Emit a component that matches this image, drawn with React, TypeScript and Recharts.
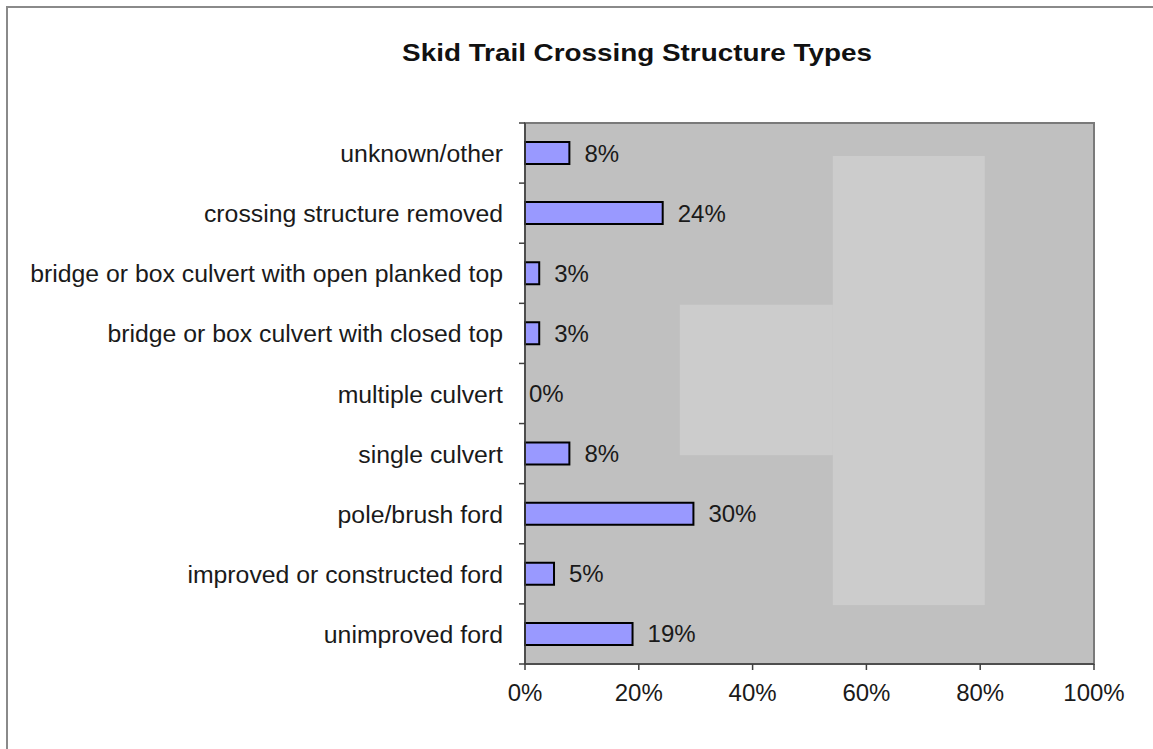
import {
    BarChart,
    Bar,
    XAxis,
    YAxis,
    ReferenceArea,
    ReferenceDot,
    LabelList,
} from 'recharts';

const categories = [
    'unknown/other',
    'crossing structure removed',
    'bridge or box culvert with open planked top',
    'bridge or box culvert with closed top',
    'multiple culvert',
    'single culvert',
    'pole/brush ford',
    'improved or constructed ford',
    'unimproved ford',
];

const shares = [7.8, 24.2, 2.5, 2.5, 0, 7.8, 29.6, 5.1, 18.9];

const xTicks = [0, 20, 40, 60, 80, 100];

const title = 'Skid Trail Crossing Structure Types';

const data = categories.map((name, i) => ({ name, share: shares[i] }));

const W = 1153;
const H = 749;
const TOP = 123;
const RIGHT = 59;
const AXIS_W = 525;
const XAXIS_H = 40;
const BOTTOM = 45;
const PLOT_H = H - TOP - BOTTOM - XAXIS_H;
const HALF_BAND = PLOT_H / categories.length / 2;
const FONT = '"Liberation Sans", Arial, sans-serif';
const pct = (v: any) => `${Math.round(Number(v))}%`;

// y-axis ticks sit on the band edges, like the original spreadsheet chart
function CategoryTick(props: any) {
    const { y, payload, index } = props;
    const ax = AXIS_W;
    return (
        <g>
            <line x1={ax - 6} x2={ax} y1={y - HALF_BAND} y2={y - HALF_BAND} stroke="#404040" strokeWidth={1.5} />
            {index === categories.length - 1 && (
                <line x1={ax - 6} x2={ax} y1={y + HALF_BAND} y2={y + HALF_BAND} stroke="#404040" strokeWidth={1.5} />
            )}
            <text
                x={ax - 22}
                y={y}
                dy={9}
                textAnchor="end"
                fontSize={24.8}
                fontFamily={FONT}
                fill="#1a1a1a"
            >
                {payload.value}
            </text>
        </g>
    );
}

// lighter patch inside the plot background (fractions of the plot box)
function Patch(f: { top: number; bottom: number }) {
    return (props: any) => (
        <rect
            x={props.x}
            width={props.width}
            y={props.y + props.height * f.top}
            height={props.height * (f.bottom - f.top)}
            fill="#cccccc"
        />
    );
}

export default function App() {
    return (
        <div style={{ position: 'relative', width: W, height: H, background: '#fff', overflow: 'hidden' }}>
            <style>{'body{margin:0}'}</style>
            <div
                style={{
                    position: 'absolute',
                    left: 6,
                    top: 6,
                    right: 0,
                    bottom: 0,
                    borderTop: '2px solid #8a8a8a',
                    borderLeft: '2px solid #8a8a8a',
                }}
            />
            <div
                style={{
                    position: 'absolute',
                    top: 41,
                    left: 337,
                    width: 600,
                    textAlign: 'center',
                    fontFamily: FONT,
                    fontWeight: 'bold',
                    fontSize: 24,
                    lineHeight: '24px',
                    color: '#111',
                    transform: 'scaleX(1.16)',
                    whiteSpace: 'nowrap',
                }}
            >
                {title}
            </div>
            <BarChart
                width={W}
                height={H}
                data={data}
                layout="vertical"
                margin={{ top: TOP, right: RIGHT, left: 0, bottom: BOTTOM }}
                barCategoryGap={0}
                style={{ position: 'absolute', left: 0, top: 0 }}
            >
                <XAxis
                    type="number"
                    domain={[0, 100]}
                    ticks={xTicks}
                    tickFormatter={(v: number) => `${v}%`}
                    height={XAXIS_H}
                    tickSize={6}
                    tickMargin={14}
                    stroke="#404040"
                    strokeWidth={1.5}
                    tick={{ fontSize: 24, fill: '#1a1a1a', fontFamily: FONT }}
                />
                <YAxis
                    type="category"
                    dataKey="name"
                    width={AXIS_W}
                    tickLine={false}
                    stroke="#404040"
                    strokeWidth={1.5}
                    tick={<CategoryTick />}
                    interval={0}
                />
                <ReferenceArea x1={0} x2={100} fill="#c0c0c0" fillOpacity={1} stroke="#7a7a7a" strokeWidth={2} />
                <ReferenceArea x1={54.1} x2={80.8} shape={Patch({ top: 0.061, bottom: 0.891 })} />
                <ReferenceArea x1={27.2} x2={54.1} shape={Patch({ top: 0.336, bottom: 0.614 })} />
                <Bar
                    dataKey="share"
                    fill="#9999ff"
                    stroke="#000"
                    strokeWidth={2}
                    barSize={22}
                    isAnimationActive={false}
                >
                    <LabelList
                        dataKey="share"
                        position="right"
                        offset={15}
                        formatter={pct}
                        style={{ fontSize: 24, fill: '#1a1a1a', fontFamily: FONT }}
                    />
                </Bar>
                {data
                    .filter((d) => d.share === 0)
                    .map((d) => (
                        <ReferenceDot
                            key={d.name}
                            x={0}
                            y={d.name}
                            r={0}
                            fill="none"
                            stroke="none"
                            label={{
                                value: pct(d.share),
                                position: 'right',
                                offset: 4,
                                style: { fontSize: 24, fill: '#1a1a1a', fontFamily: FONT },
                            }}
                        />
                    ))}
            </BarChart>
        </div>
    );
}
